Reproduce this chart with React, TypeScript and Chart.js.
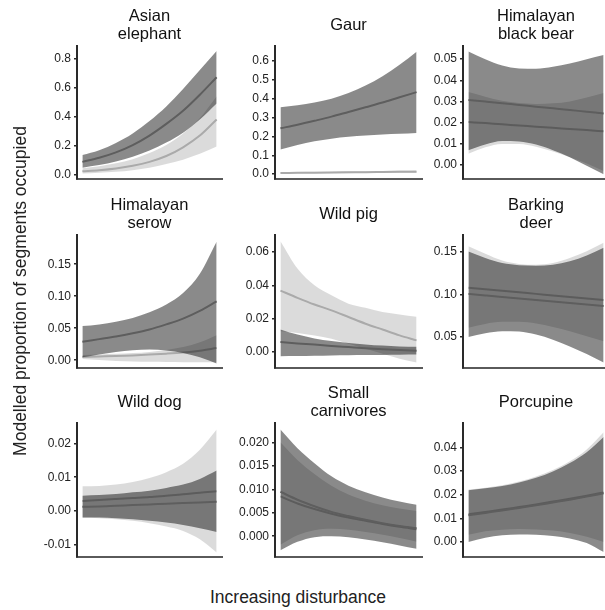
import React, { useEffect, useRef } from "react";
import { Chart, registerables } from "chart.js";

Chart.register(...registerables);

const FONT = "'Liberation Sans', Arial, Helvetica, sans-serif";

// disturbance gradient (index along the x axis, no tick labels)
const disturbance = [0, 1, 2, 3, 4, 5, 6, 7, 8];

// ---------- Asian elephant ----------
const elephantTicks = ["0.0", "0.2", "0.4", "0.6", "0.8"];
const elephantLightLo = [0.010, 0.015, 0.022, 0.033, 0.050, 0.075, 0.105, 0.145, 0.195];
const elephantLightMid = [0.025, 0.033, 0.045, 0.063, 0.090, 0.130, 0.190, 0.270, 0.380];
const elephantLightHi = [0.047, 0.060, 0.080, 0.108, 0.150, 0.205, 0.285, 0.390, 0.540];
const elephantDarkLo = [0.050, 0.068, 0.092, 0.125, 0.168, 0.222, 0.290, 0.380, 0.490];
const elephantDarkMid = [0.090, 0.118, 0.155, 0.205, 0.270, 0.350, 0.440, 0.550, 0.670];
const elephantDarkHi = [0.137, 0.170, 0.220, 0.285, 0.370, 0.470, 0.590, 0.720, 0.850];

// ---------- Gaur ----------
const gaurTicks = ["0.0", "0.1", "0.2", "0.3", "0.4", "0.5", "0.6"];
const gaurLightLo = [0.003, 0.0035, 0.004, 0.0045, 0.005, 0.0055, 0.006, 0.0065, 0.007];
const gaurLightMid = [0.006, 0.0068, 0.0076, 0.0084, 0.0092, 0.010, 0.011, 0.012, 0.013];
const gaurLightHi = [0.010, 0.011, 0.012, 0.013, 0.014, 0.015, 0.017, 0.019, 0.021];
const gaurDarkLo = [0.130, 0.155, 0.174, 0.188, 0.198, 0.205, 0.210, 0.214, 0.218];
const gaurDarkMid = [0.243, 0.262, 0.283, 0.305, 0.330, 0.355, 0.380, 0.408, 0.435];
const gaurDarkHi = [0.355, 0.365, 0.380, 0.400, 0.430, 0.470, 0.520, 0.580, 0.650];

// ---------- Himalayan black bear ----------
const bearTicks = ["0.00", "0.01", "0.02", "0.03", "0.04", "0.05"];
const bearLightLo = [0.0052, 0.0082, 0.0098, 0.0098, 0.0085, 0.0062, 0.0035, 0.0005, -0.0030];
const bearLightMid = [0.0202, 0.0197, 0.0191, 0.0186, 0.0180, 0.0175, 0.0169, 0.0164, 0.0158];
const bearLightHi = [0.0344, 0.0322, 0.0303, 0.0292, 0.0288, 0.0291, 0.0300, 0.0318, 0.0340];
const bearDarkLo = [0.0068, 0.0095, 0.0112, 0.0110, 0.0095, 0.0068, 0.0035, -0.0005, -0.0045];
const bearDarkMid = [0.0307, 0.0299, 0.0291, 0.0283, 0.0275, 0.0267, 0.0259, 0.0251, 0.0243];
const bearDarkHi = [0.0537, 0.0500, 0.0470, 0.0456, 0.0455, 0.0464, 0.0480, 0.0500, 0.0520];

// ---------- Himalayan serow ----------
const serowTicks = ["0.00", "0.05", "0.10", "0.15"];
const serowLightLo = [0.0020, 0.0005, -0.0010, -0.0020, -0.0025, -0.0028, -0.0030, -0.0030, -0.0030];
const serowLightMid = [0.0050, 0.0058, 0.0066, 0.0076, 0.0088, 0.0103, 0.0122, 0.0150, 0.0190];
const serowLightHi = [0.0080, 0.0090, 0.0100, 0.0112, 0.0130, 0.0160, 0.0205, 0.0280, 0.0390];
const serowDarkLo = [0.0045, 0.0090, 0.0130, 0.0158, 0.0168, 0.0152, 0.0112, 0.0045, -0.0050];
const serowDarkMid = [0.029, 0.033, 0.037, 0.042, 0.048, 0.056, 0.065, 0.077, 0.092];
const serowDarkHi = [0.0534, 0.056, 0.060, 0.066, 0.075, 0.087, 0.105, 0.135, 0.185];

// ---------- Wild pig ----------
const pigTicks = ["0.00", "0.02", "0.04", "0.06"];
const pigLightLo = [0.0125, 0.0115, 0.0100, 0.0080, 0.0050, 0.0020, -0.0010, -0.0040, -0.0062];
const pigLightMid = [0.0368, 0.0325, 0.0285, 0.0250, 0.0210, 0.0170, 0.0135, 0.0100, 0.0070];
const pigLightHi = [0.0664, 0.0500, 0.0400, 0.0340, 0.0290, 0.0265, 0.0240, 0.0225, 0.0211];
const pigDarkLo = [-0.0025, -0.0024, -0.0022, -0.0020, -0.0019, -0.0018, -0.0017, -0.0016, -0.0015];
const pigDarkMid = [0.0060, 0.0052, 0.0045, 0.0037, 0.0030, 0.0023, 0.0017, 0.0012, 0.0008];
const pigDarkHi = [0.0136, 0.0105, 0.0082, 0.0066, 0.0055, 0.0046, 0.0039, 0.0034, 0.0032];

// ---------- Barking deer ----------
const deerTicks = ["0.05", "0.10", "0.15"];
const deerLightLo = [0.061, 0.0655, 0.068, 0.068, 0.066, 0.062, 0.057, 0.051, 0.045];
const deerLightMid = [0.108, 0.1062, 0.1044, 0.1026, 0.1008, 0.099, 0.0972, 0.0954, 0.0936];
const deerLightHi = [0.1567, 0.148, 0.140, 0.136, 0.135, 0.137, 0.143, 0.151, 0.161];
const deerDarkLo = [0.050, 0.0545, 0.057, 0.0565, 0.053, 0.047, 0.039, 0.030, 0.020];
const deerDarkMid = [0.1008, 0.099, 0.0972, 0.0954, 0.0936, 0.0918, 0.090, 0.0882, 0.0866];
const deerDarkHi = [0.1505, 0.143, 0.137, 0.1345, 0.134, 0.135, 0.139, 0.146, 0.155];

// ---------- Wild dog ----------
const dogTicks = ["-0.01", "0.00", "0.01", "0.02"];
const dogLightLo = [-0.0021, -0.0022, -0.0025, -0.0030, -0.0037, -0.0047, -0.0060, -0.0085, -0.0124];
const dogLightMid = [0.0029, 0.0032, 0.0035, 0.0038, 0.0041, 0.0045, 0.0049, 0.0054, 0.0058];
const dogLightHi = [0.0073, 0.0074, 0.0078, 0.0086, 0.0098, 0.0115, 0.0140, 0.0182, 0.0242];
const dogDarkLo = [-0.0020, -0.0020, -0.0022, -0.0025, -0.0030, -0.0035, -0.0042, -0.0052, -0.0063];
const dogDarkMid = [0.0012, 0.0013, 0.0015, 0.0017, 0.0019, 0.0021, 0.0023, 0.0025, 0.0027];
const dogDarkHi = [0.0045, 0.0047, 0.0050, 0.0055, 0.0060, 0.0068, 0.0078, 0.0095, 0.0120];

// ---------- Small carnivores ----------
const carnTicks = ["0.000", "0.005", "0.010", "0.015", "0.020"];
const carnLightLo = [-0.0018, 0.0002, 0.0013, 0.0016, 0.0014, 0.0009, 0.0003, -0.0004, -0.0012];
const carnLightMid = [0.0085, 0.0070, 0.0058, 0.0048, 0.0040, 0.0033, 0.0026, 0.0020, 0.0015];
const carnLightHi = [0.0201, 0.0163, 0.0133, 0.0108, 0.0089, 0.0076, 0.0066, 0.0059, 0.0054];
const carnDarkLo = [-0.0030, -0.0012, -0.0002, 0.0000, -0.0002, -0.0007, -0.0013, -0.0020, -0.0027];
const carnDarkMid = [0.0095, 0.0078, 0.0064, 0.0052, 0.0043, 0.0035, 0.0028, 0.0022, 0.0017];
const carnDarkHi = [0.0228, 0.0188, 0.0156, 0.0128, 0.0108, 0.0094, 0.0083, 0.0074, 0.0067];

// ---------- Porcupine ----------
const porcTicks = ["0.00", "0.01", "0.02", "0.03", "0.04"];
const porcLightLo = [0.0030, 0.0045, 0.0052, 0.0055, 0.0053, 0.0048, 0.0038, 0.0022, 0.0000];
const porcLightMid = [0.0117, 0.0127, 0.0137, 0.0148, 0.0159, 0.0171, 0.0183, 0.0196, 0.0210];
const porcLightHi = [0.0222, 0.0230, 0.0240, 0.0256, 0.0277, 0.0305, 0.0342, 0.0392, 0.0465];
const porcDarkLo = [0.0000, 0.0018, 0.0028, 0.0031, 0.0030, 0.0025, 0.0015, -0.0005, -0.0043];
const porcDarkMid = [0.0113, 0.0123, 0.0133, 0.0144, 0.0155, 0.0167, 0.0179, 0.0192, 0.0206];
const porcDarkHi = [0.0219, 0.0227, 0.0237, 0.0252, 0.0272, 0.0299, 0.0334, 0.0380, 0.0445];

type PanelDef = {
  title: string[];
  ticks: string[];
  yMin: number;
  yMax: number;
  col: number;
  row: number;
  lightLo: number[];
  lightMid: number[];
  lightHi: number[];
  darkLo: number[];
  darkMid: number[];
  darkHi: number[];
};

const PANELS: PanelDef[] = [
  { title: ["Asian", "elephant"], ticks: elephantTicks, yMin: -0.026, yMax: 0.884, col: 0, row: 0,
    lightLo: elephantLightLo, lightMid: elephantLightMid, lightHi: elephantLightHi,
    darkLo: elephantDarkLo, darkMid: elephantDarkMid, darkHi: elephantDarkHi },
  { title: ["Gaur"], ticks: gaurTicks, yMin: -0.025, yMax: 0.68, col: 1, row: 0,
    lightLo: gaurLightLo, lightMid: gaurLightMid, lightHi: gaurLightHi,
    darkLo: gaurDarkLo, darkMid: gaurDarkMid, darkHi: gaurDarkHi },
  { title: ["Himalayan", "black bear"], ticks: bearTicks, yMin: -0.0067, yMax: 0.05625, col: 2, row: 0,
    lightLo: bearLightLo, lightMid: bearLightMid, lightHi: bearLightHi,
    darkLo: bearDarkLo, darkMid: bearDarkMid, darkHi: bearDarkHi },
  { title: ["Himalayan", "serow"], ticks: serowTicks, yMin: -0.0118, yMax: 0.1956, col: 0, row: 1,
    lightLo: serowLightLo, lightMid: serowLightMid, lightHi: serowLightHi,
    darkLo: serowDarkLo, darkMid: serowDarkMid, darkHi: serowDarkHi },
  { title: ["Wild pig"], ticks: pigTicks, yMin: -0.0094, yMax: 0.0701, col: 1, row: 1,
    lightLo: pigLightLo, lightMid: pigLightMid, lightHi: pigLightHi,
    darkLo: pigDarkLo, darkMid: pigDarkMid, darkHi: pigDarkHi },
  { title: ["Barking", "deer"], ticks: deerTicks, yMin: 0.0139, yMax: 0.17, col: 2, row: 1,
    lightLo: deerLightLo, lightMid: deerLightMid, lightHi: deerLightHi,
    darkLo: deerDarkLo, darkMid: deerDarkMid, darkHi: deerDarkHi },
  { title: ["Wild dog"], ticks: dogTicks, yMin: -0.0137, yMax: 0.02615, col: 0, row: 2,
    lightLo: dogLightLo, lightMid: dogLightMid, lightHi: dogLightHi,
    darkLo: dogDarkLo, darkMid: dogDarkMid, darkHi: dogDarkHi },
  { title: ["Small", "carnivores"], ticks: carnTicks, yMin: -0.0044, yMax: 0.0242, col: 1, row: 2,
    lightLo: carnLightLo, lightMid: carnLightMid, lightHi: carnLightHi,
    darkLo: carnDarkLo, darkMid: carnDarkMid, darkHi: carnDarkHi },
  { title: ["Porcupine"], ticks: porcTicks, yMin: -0.0063, yMax: 0.0504, col: 2, row: 2,
    lightLo: porcLightLo, lightMid: porcLightMid, lightHi: porcLightHi,
    darkLo: porcDarkLo, darkMid: porcDarkMid, darkHi: porcDarkHi },
];

// layout geometry (pixels)
const COL_AXIS_X = [77, 275, 463];
const COL_PLOT_W = [145, 147, 146];
const ROW_PLOT_TOP = [46, 235, 423];
const ROW_PLOT_H = [141, 141, 142];
const Y_AXIS_W = 60;
const TITLE_H = 46;
const PAD = 2;

function geom(p: PanelDef) {
  const left = COL_AXIS_X[p.col] - Y_AXIS_W;
  const top = ROW_PLOT_TOP[p.row] - TITLE_H;
  const w = Y_AXIS_W + COL_PLOT_W[p.col] + PAD;
  const h = TITLE_H + ROW_PLOT_H[p.row] + PAD;
  return { left, top, w, h };
}

function pts(arr: number[]) {
  return disturbance.map((x, i) => ({ x, y: arr[i] }));
}

function makeConfig(p: PanelDef): any {
  const tickVals = p.ticks.map((t) => parseFloat(t));
  const common = {
    pointRadius: 0,
    pointHoverRadius: 0,
    tension: 0.4,
    cubicInterpolationMode: "monotone",
  };
  const datasets = [
    { ...common, data: pts(p.lightLo), borderWidth: 0, borderColor: "rgba(0,0,0,0)", fill: false },
    { ...common, data: pts(p.lightHi), borderWidth: 0, borderColor: "rgba(0,0,0,0)", fill: "-1", backgroundColor: "rgba(0,0,0,0.14)" },
    { ...common, data: pts(p.lightMid), borderWidth: 2, borderColor: "#aaaaaa", fill: false },
    { ...common, data: pts(p.darkLo), borderWidth: 0, borderColor: "rgba(0,0,0,0)", fill: false },
    { ...common, data: pts(p.darkHi), borderWidth: 0, borderColor: "rgba(0,0,0,0)", fill: "-1", backgroundColor: "rgba(0,0,0,0.46)" },
    { ...common, data: pts(p.darkMid), borderWidth: 2, borderColor: "#5e5e5e", fill: false },
  ].map((d, i, all) => ({ ...d, order: all.length - i }));

  const oneLine = p.title.length === 1;
  return {
    type: "line",
    data: { datasets },
    options: {
      animation: false,
      responsive: false,
      maintainAspectRatio: false,
      events: [],
      layout: { autoPadding: false, padding: { left: 0, top: 0, right: PAD, bottom: PAD } },
      plugins: {
        legend: { display: false },
        tooltip: { enabled: false },
        title: {
          display: true,
          text: p.title,
          fullSize: false,
          color: "#111",
          font: { family: FONT, size: 16.5, weight: "normal", lineHeight: "18px" },
          padding: oneLine ? { top: 16, bottom: 12 } : { top: 7, bottom: 3 },
        },
      },
      scales: {
        x: {
          type: "linear",
          min: -0.32,
          max: 8.32,
          display: true,
          grid: { display: false },
          ticks: { display: false },
          border: { display: true, color: "#5a5a5a", width: 2 },
          afterFit: (s: any) => {
            s.height = 0;
          },
        },
        y: {
          type: "linear",
          min: p.yMin,
          max: p.yMax,
          afterFit: (s: any) => {
            s.width = Y_AXIS_W;
          },
          afterBuildTicks: (s: any) => {
            s.ticks = tickVals.map((v) => ({ value: v }));
          },
          ticks: {
            autoSkip: false,
            padding: 3,
            color: "#222",
            font: { family: FONT, size: 12 },
            callback: (_v: any, i: number) => p.ticks[i],
          },
          grid: {
            display: true,
            drawOnChartArea: false,
            drawTicks: true,
            tickLength: 3,
            color: "#2a2a2a",
            lineWidth: 1.5,
          },
          border: { display: true, color: "#2a2a2a", width: 2 },
        },
      },
    },
  };
}

export default function App() {
  const refs = useRef<(HTMLCanvasElement | null)[]>([]);

  useEffect(() => {
    const charts = PANELS.map((p, i) => new Chart(refs.current[i] as HTMLCanvasElement, makeConfig(p)));
    return () => charts.forEach((c) => c.destroy());
  }, []);

  return (
    <div
      style={{
        position: "fixed",
        left: 0,
        top: 0,
        width: 605,
        height: 610,
        overflow: "hidden",
        background: "#fff",
        fontFamily: FONT,
      }}
    >
      {PANELS.map((p, i) => {
        const g = geom(p);
        return (
          <canvas
            key={i}
            ref={(el) => {
              refs.current[i] = el;
            }}
            width={g.w}
            height={g.h}
            style={{ position: "absolute", left: g.left, top: g.top, width: g.w, height: g.h }}
          />
        );
      })}
      <div
        style={{
          position: "absolute",
          left: 19.5 - 200,
          top: 291 - 10,
          width: 400,
          height: 20,
          lineHeight: "20px",
          fontSize: 17.5,
          color: "#222",
          textAlign: "center",
          whiteSpace: "nowrap",
          transform: "rotate(-90deg)",
          transformOrigin: "50% 50%",
        }}
      >
        Modelled proportion of segments occupied
      </div>
      <div
        style={{
          position: "absolute",
          left: 0,
          top: 587,
          width: 596,
          height: 20,
          lineHeight: "20px",
          fontSize: 17.5,
          color: "#222",
          textAlign: "center",
          whiteSpace: "nowrap",
        }}
      >
        Increasing disturbance
      </div>
    </div>
  );
}
